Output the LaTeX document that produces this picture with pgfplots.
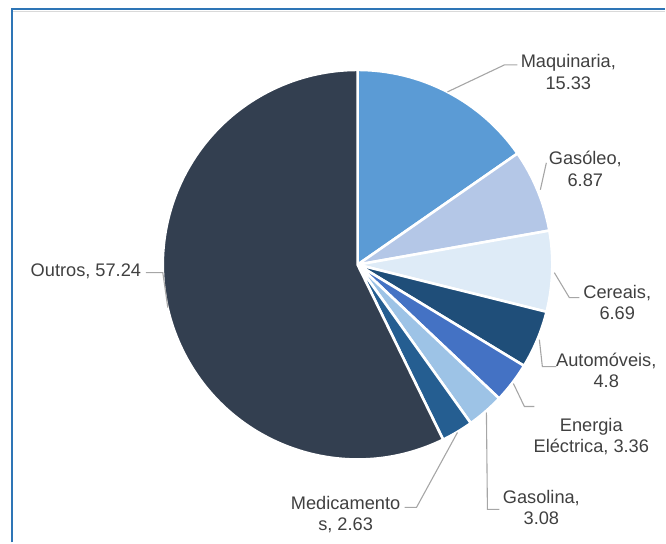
\documentclass[border=0pt]{standalone}
\usepackage{pgfplots}
\pgfplotsset{compat=1.18}
\usepackage{pgfplotstable}
\usepackage{fontspec}
\setmainfont{Liberation Sans}

\definecolor{cMaq}{HTML}{5B9BD5}
\definecolor{cGas}{HTML}{B4C7E7}
\definecolor{cCer}{HTML}{DEEBF7}
\definecolor{cAut}{HTML}{1F4E79}
\definecolor{cEne}{HTML}{4472C4}
\definecolor{cGsl}{HTML}{9DC3E6}
\definecolor{cMed}{HTML}{255E91}
\definecolor{cOut}{HTML}{333F50}
\definecolor{txt}{HTML}{404040}
\definecolor{lead}{HTML}{A6A6A6}
\definecolor{frame}{HTML}{2E75B6}

% share of each product, clockwise from 12 o'clock
\pgfplotstableread{
value color
15.33 cMaq
6.87  cGas
6.69  cCer
4.8   cAut
3.36  cEne
3.08  cGsl
2.63  cMed
57.24 cOut
}\piedata

% start/end angle of every slice
\xdef\acc{90}
\foreach \i in {0,...,7}{
  \pgfplotstablegetelem{\i}{value}\of\piedata
  \pgfmathsetmacro\endang{\acc-3.6*\pgfplotsretval}
  \expandafter\xdef\csname sS\i\endcsname{\acc}
  \expandafter\xdef\csname sE\i\endcsname{\endang}
  \pgfplotstablegetelem{\i}{color}\of\piedata
  \expandafter\xdef\csname sC\i\endcsname{\pgfplotsretval}
  \xdef\acc{\endang}
}

\begin{document}
\begin{tikzpicture}
\begin{axis}[
  width=666bp, height=543bp, scale only axis,
  xmin=0, xmax=666, ymin=0, ymax=543,
  hide axis, clip=false,
]
\path (axis cs:0,0) rectangle (axis cs:666,543);

% frame
\draw[gray!30, line width=1bp] (axis cs:13,531.5) -- (axis cs:666,531.5);
\draw[frame, line width=1.6bp] (axis cs:12,0) -- (axis cs:12,534) -- (axis cs:666,534);

% slices
\pgfplotsinvokeforeach{0,...,7}{
  \edef\doslice{\noexpand\filldraw[fill=\csname sC#1\endcsname, draw=white, line width=2.6bp, line join=round]
    (axis cs:358,278) -- ++(\csname sS#1\endcsname:195bp)
    arc[start angle=\csname sS#1\endcsname, end angle=\csname sE#1\endcsname, radius=195bp] -- cycle;}
  \doslice
}

% leader lines
\begin{scope}[lead, line width=1.1bp]
\draw (axis cs:448,451) -- (axis cs:505,478) -- (axis cs:518,478);
\draw (axis cs:541,353) -- (axis cs:547,380);
\draw (axis cs:555,270) -- (axis cs:570,245) -- (axis cs:580,245);
\draw (axis cs:540,203) -- (axis cs:543,176) -- (axis cs:557,176);
\draw (axis cs:514,159) -- (axis cs:525,136) -- (axis cs:535,136);
\draw (axis cs:487,130) -- (axis cs:488,33) -- (axis cs:500,33);
\draw (axis cs:458,110) -- (axis cs:417,35) -- (axis cs:405,35);
\draw (axis cs:168,235) -- (axis cs:163,270) -- (axis cs:146,270);
\end{scope}

% labels
\begin{scope}[every node/.style={text=txt, font=\fontsize{18.3}{21.5}\selectfont, align=center, inner sep=0pt}]
\node at (axis cs:569,471) {Maquinaria,\\15.33};
\node at (axis cs:586,374) {Gasóleo,\\6.87};
\node at (axis cs:618,240) {Cereais,\\6.69};
\node at (axis cs:607,172) {Automóveis,\\4.8};
\node at (axis cs:592,106) {Energia\\Eléctrica, 3.36};
\node at (axis cs:542,35) {Gasolina,\\3.08};
\node at (axis cs:346,28) {Medicamento\\s, 2.63};
\node at (axis cs:86,271) {Outros, 57.24};
\end{scope}
\end{axis}
\end{tikzpicture}
\end{document}
